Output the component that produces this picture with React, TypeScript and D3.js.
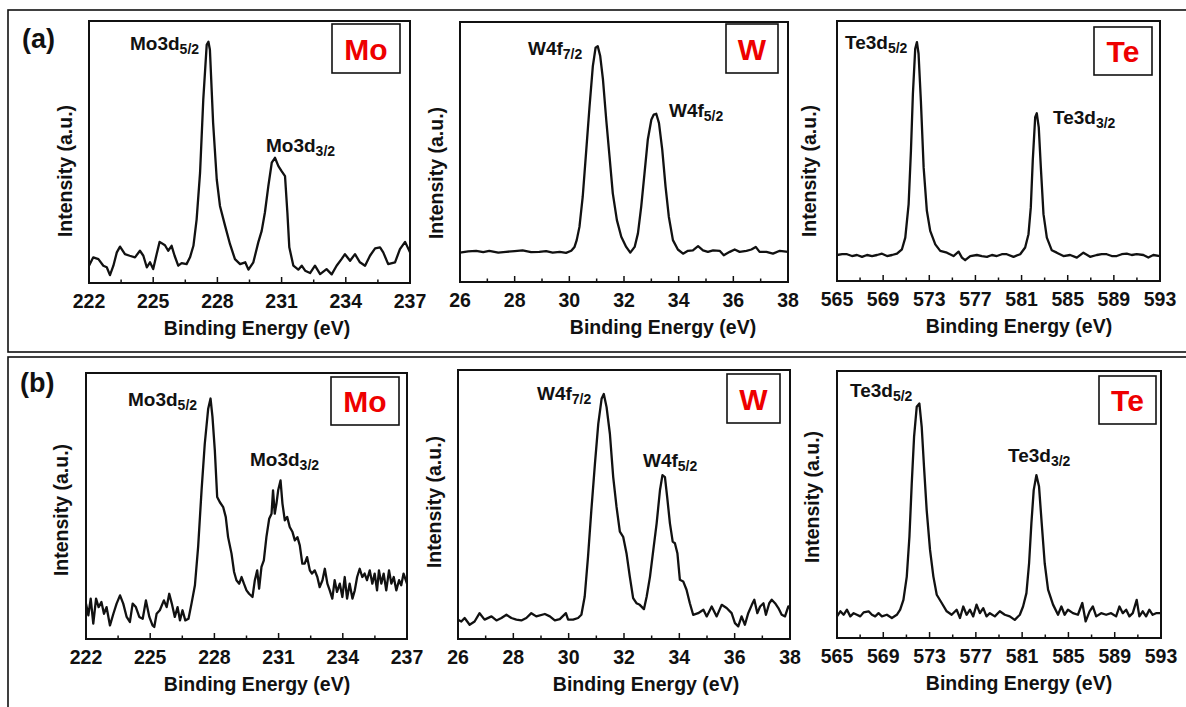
import React from "react";
import * as d3 from "d3";

const FONT = "'Liberation Sans', Arial, Helvetica, sans-serif";
const RED = "#ee0000";

// Tick values for each core-level window
const moTicks = [222, 225, 228, 231, 234, 237];
const wTicks = [26, 28, 30, 32, 34, 36, 38];
const teTicks = [565, 569, 573, 577, 581, 585, 589, 593];

// XPS spectra: [binding energy (eV), intensity (a.u.)]
const moSpectrumA: [number, number][] = [
  [222.0, 6.6], [222.2, 9.8], [222.44, 9.1], [222.67, 6.6], [222.83, 6.0], [222.98, 3.0],
  [223.14, 6.6], [223.3, 11.7], [223.45, 13.9], [223.68, 11.0], [223.9, 10.4], [224.15, 9.8],
  [224.38, 12.3], [224.54, 10.4], [224.7, 6.0], [224.85, 7.9], [225.0, 5.3], [225.16, 11.0],
  [225.3, 15.7], [225.55, 14.4], [225.7, 12.3], [225.86, 14.2], [226.0, 10.4], [226.17, 6.6],
  [226.33, 7.6], [226.56, 7.2], [226.72, 9.8], [226.88, 14.2], [227.03, 24.3], [227.19, 42.1],
  [227.34, 70.0], [227.5, 90.9], [227.58, 92.1], [227.65, 89.0], [227.8, 61.1], [227.97, 39.5],
  [228.12, 29.4], [228.36, 21.8], [228.59, 14.8], [228.82, 9.1], [229.06, 7.2], [229.3, 7.9],
  [229.45, 5.1], [229.68, 7.9], [229.91, 15.5], [230.07, 19.9], [230.22, 26.9], [230.38, 37.0],
  [230.54, 45.9], [230.69, 47.8], [230.85, 44.6], [231.0, 42.7], [231.16, 40.8], [231.27, 26.9],
  [231.36, 13.6], [231.55, 6.6], [231.78, 5.1], [231.94, 6.6], [232.1, 4.7], [232.33, 3.8],
  [232.56, 6.6], [232.8, 3.4], [233.1, 5.3], [233.34, 3.3], [233.57, 6.6], [233.8, 9.1],
  [233.96, 11.0], [234.2, 8.5], [234.43, 11.0], [234.66, 7.9], [234.9, 6.6], [235.13, 10.4],
  [235.37, 13.2], [235.6, 13.6], [235.75, 11.7], [235.98, 7.2], [236.3, 7.9], [236.53, 12.9],
  [236.77, 15.7], [237.0, 11.7],
];

const wSpectrumA: [number, number][] = [
  [26.0, 11.3], [26.3, 11.8], [26.59, 12.0], [26.85, 11.5], [27.07, 12.0], [27.4, 11.3],
  [27.68, 11.6], [28.0, 11.9], [28.29, 12.2], [28.6, 11.5], [28.9, 11.6], [29.15, 11.9],
  [29.39, 11.3], [29.65, 11.6], [29.88, 11.2], [30.07, 12.0], [30.19, 13.5], [30.27, 16.1],
  [30.37, 21.2], [30.49, 32.8], [30.62, 50.8], [30.74, 67.6], [30.86, 83.0], [30.96, 90.1],
  [31.04, 90.7], [31.13, 86.9], [31.23, 77.9], [31.35, 62.4], [31.47, 48.3], [31.59, 34.1],
  [31.74, 23.8], [31.9, 17.4], [32.08, 13.5], [32.23, 11.3], [32.39, 13.5], [32.51, 18.7],
  [32.63, 29.0], [32.75, 41.8], [32.87, 54.7], [33.0, 62.4], [33.09, 64.4], [33.18, 64.7],
  [33.28, 61.1], [33.4, 50.8], [33.52, 36.7], [33.64, 25.1], [33.79, 16.1], [33.97, 12.5],
  [34.16, 10.9], [34.34, 12.0], [34.52, 12.2], [34.71, 13.8], [34.89, 12.2], [35.07, 11.6],
  [35.26, 12.2], [35.5, 12.0], [35.65, 10.3], [35.87, 11.6], [36.05, 12.5], [36.23, 11.6],
  [36.48, 12.0], [36.66, 12.5], [36.82, 13.5], [36.96, 11.6], [37.21, 11.6], [37.45, 10.9],
  [37.7, 12.0], [38.0, 11.6],
];

const teSpectrumA: [number, number][] = [
  [565.0, 10.0], [565.45, 10.3], [565.87, 10.3], [566.3, 9.6], [566.73, 10.0], [567.17, 9.3],
  [567.6, 10.0], [568.04, 9.6], [568.47, 10.0], [568.9, 10.5], [569.34, 9.6], [569.77, 10.0],
  [570.2, 10.5], [570.63, 12.2], [570.92, 16.7], [571.21, 29.6], [571.41, 50.1], [571.58, 72.0],
  [571.78, 89.3], [571.93, 91.9], [572.07, 87.4], [572.27, 69.4], [572.51, 43.7], [572.79, 27.0],
  [573.08, 19.3], [573.52, 14.1], [573.95, 11.6], [574.53, 10.9], [575.1, 9.6], [575.54, 11.3],
  [575.83, 9.0], [576.11, 8.0], [576.55, 9.6], [577.12, 10.0], [577.56, 9.6], [578.0, 9.3],
  [578.43, 10.0], [578.86, 9.6], [579.29, 10.3], [579.72, 10.3], [580.3, 9.3], [580.88, 10.3],
  [581.31, 12.9], [581.6, 18.0], [581.8, 28.3], [581.97, 46.3], [582.18, 63.0], [582.32, 64.5],
  [582.49, 59.1], [582.67, 43.7], [582.9, 25.7], [583.19, 16.7], [583.62, 11.8], [584.05, 10.9],
  [584.63, 9.6], [585.21, 10.0], [585.79, 9.0], [586.36, 10.9], [586.94, 9.3], [587.52, 10.0],
  [587.95, 10.3], [588.38, 10.3], [588.82, 9.6], [589.25, 9.6], [589.68, 10.3], [590.12, 10.5],
  [590.55, 10.0], [590.98, 10.3], [591.56, 10.0], [591.99, 9.0], [592.42, 10.0], [593.0, 9.6],
];

const moSpectrumB: [number, number][] = [
  [222.0, 13.3], [222.11, 8.9], [222.22, 15.2], [222.34, 5.8], [222.47, 15.2], [222.59, 12.0],
  [222.72, 13.9], [222.84, 9.5], [222.96, 12.0], [223.12, 5.1], [223.28, 9.5], [223.43, 13.3],
  [223.59, 16.4], [223.74, 13.3], [223.9, 8.3], [224.05, 6.4], [224.18, 13.3], [224.33, 12.0],
  [224.49, 8.3], [224.65, 7.6], [224.8, 14.5], [224.96, 8.3], [225.11, 5.1], [225.19, 4.5],
  [225.3, 9.5], [225.45, 10.8], [225.64, 14.5], [225.77, 12.0], [225.89, 17.0], [226.01, 13.3],
  [226.15, 8.3], [226.28, 12.0], [226.39, 7.0], [226.51, 10.8], [226.64, 7.0], [226.79, 7.6],
  [226.93, 13.3], [227.09, 20.2], [227.24, 34.6], [227.4, 55.9], [227.55, 73.4], [227.71, 86.6],
  [227.82, 90.4], [227.91, 83.5], [228.02, 70.9], [228.13, 53.4], [228.25, 51.5], [228.41, 49.6],
  [228.53, 45.9], [228.64, 38.3], [228.8, 32.1], [228.92, 25.2], [229.03, 22.1], [229.16, 20.8],
  [229.27, 23.3], [229.38, 20.8], [229.5, 18.3], [229.62, 17.0], [229.78, 15.8], [229.89, 22.1],
  [230.0, 25.8], [230.09, 18.9], [230.2, 27.1], [230.31, 29.6], [230.43, 38.3], [230.56, 45.2],
  [230.67, 47.1], [230.74, 55.9], [230.82, 47.1], [230.9, 50.9], [230.98, 55.9], [231.09, 59.6],
  [231.18, 50.9], [231.29, 44.6], [231.4, 45.9], [231.52, 42.1], [231.65, 40.2], [231.76, 37.1],
  [231.88, 38.3], [231.99, 35.2], [232.11, 28.3], [232.22, 28.3], [232.33, 30.8], [232.46, 25.8],
  [232.56, 24.6], [232.69, 25.8], [232.81, 23.3], [232.92, 19.5], [233.05, 22.1], [233.16, 26.4],
  [233.28, 20.8], [233.39, 18.3], [233.51, 15.2], [233.62, 22.1], [233.73, 17.7], [233.86, 20.8],
  [233.98, 15.8], [234.09, 23.3], [234.2, 15.2], [234.32, 20.8], [234.45, 15.2], [234.56, 18.3],
  [234.67, 23.3], [234.79, 26.4], [234.91, 23.3], [235.02, 24.6], [235.13, 22.1], [235.26, 25.8],
  [235.38, 20.8], [235.49, 24.6], [235.6, 18.3], [235.69, 25.8], [235.8, 20.8], [235.91, 24.6],
  [236.03, 18.3], [236.16, 25.8], [236.27, 20.8], [236.38, 23.3], [236.5, 18.3], [236.63, 22.1],
  [236.73, 20.2], [236.84, 24.6], [237.0, 20.8],
];

const wSpectrumB: [number, number][] = [
  [26.0, 7.2], [26.12, 6.5], [26.24, 7.8], [26.42, 5.3], [26.6, 6.5], [26.78, 9.6], [26.96, 7.2],
  [27.21, 8.4], [27.39, 6.9], [27.57, 7.8], [27.75, 9.0], [27.93, 7.8], [28.11, 7.2], [28.29, 6.9],
  [28.47, 7.8], [28.65, 9.6], [28.83, 8.4], [29.14, 9.3], [29.32, 8.4], [29.5, 6.9], [29.68, 7.4],
  [29.9, 9.6], [29.98, 7.2], [30.16, 7.2], [30.34, 7.8], [30.46, 9.0], [30.58, 15.8], [30.7, 30.6],
  [30.82, 47.9], [30.95, 65.2], [31.07, 80.0], [31.19, 89.3], [31.27, 91.1], [31.37, 86.2],
  [31.49, 76.3], [31.61, 60.2], [31.73, 49.1], [31.85, 39.9], [31.97, 38.0], [32.09, 31.9],
  [32.21, 23.2], [32.33, 15.2], [32.45, 13.3], [32.57, 12.7], [32.72, 11.1], [32.82, 15.8],
  [32.94, 23.2], [33.06, 33.1], [33.18, 43.0], [33.3, 55.3], [33.39, 60.9], [33.48, 60.2],
  [33.56, 52.8], [33.66, 43.0], [33.76, 36.2], [33.84, 35.6], [33.93, 31.9], [34.02, 22.0],
  [34.14, 21.4], [34.26, 18.3], [34.38, 13.3], [34.5, 9.0], [34.68, 9.6], [34.87, 10.9],
  [34.99, 8.4], [35.17, 12.1], [35.35, 8.4], [35.53, 12.7], [35.71, 11.5], [35.89, 9.6],
  [36.01, 5.9], [36.13, 4.7], [36.25, 8.4], [36.37, 5.3], [36.49, 9.6], [36.62, 12.7],
  [36.71, 14.6], [36.82, 9.6], [36.92, 12.1], [37.04, 13.3], [37.13, 9.0], [37.25, 13.3],
  [37.34, 14.6], [37.46, 13.3], [37.58, 11.5], [37.7, 9.0], [37.82, 8.4], [37.94, 12.1], [38.0, 11.5],
];

const teSpectrumB: [number, number][] = [
  [565.0, 8.1], [565.29, 10.0], [565.57, 8.7], [565.86, 10.6], [566.15, 8.1], [566.44, 9.3],
  [566.72, 8.7], [567.01, 8.1], [567.3, 9.6], [567.73, 10.0], [568.02, 8.7], [568.3, 8.1],
  [568.59, 9.3], [568.88, 8.1], [569.31, 8.7], [569.74, 7.5], [570.17, 8.7], [570.46, 10.6],
  [570.74, 14.3], [571.03, 23.0], [571.26, 38.0], [571.46, 57.9], [571.66, 75.3], [571.89, 86.6],
  [572.12, 87.8], [572.32, 79.1], [572.52, 64.1], [572.75, 47.9], [573.04, 33.0], [573.33, 23.0],
  [573.62, 16.2], [574.05, 13.1], [574.48, 10.0], [574.91, 8.7], [575.34, 10.6], [575.63, 7.5],
  [575.91, 11.8], [576.2, 8.7], [576.49, 10.6], [576.77, 8.1], [577.06, 12.5], [577.35, 9.3],
  [577.64, 11.2], [577.92, 8.1], [578.21, 9.3], [578.64, 8.1], [579.07, 10.0], [579.5, 8.7],
  [579.93, 8.1], [580.36, 6.8], [580.8, 8.7], [581.08, 11.8], [581.37, 16.8], [581.6, 28.0],
  [581.8, 43.0], [582.0, 55.4], [582.23, 61.0], [582.46, 56.7], [582.69, 43.0], [582.95, 28.0],
  [583.24, 18.1], [583.67, 12.5], [584.1, 8.7], [584.39, 11.8], [584.67, 8.7], [584.96, 10.6],
  [585.39, 9.3], [585.82, 8.7], [586.2, 13.1], [586.49, 6.2], [586.83, 10.0], [587.11, 11.8],
  [587.4, 8.1], [587.83, 9.3], [588.26, 8.7], [588.69, 9.3], [589.12, 8.1], [589.41, 11.8],
  [589.7, 9.3], [589.99, 10.6], [590.27, 8.1], [590.56, 9.3], [590.9, 14.3], [591.13, 8.1],
  [591.42, 10.0], [591.71, 8.1], [591.99, 10.6], [592.28, 8.7], [592.57, 9.3], [593.0, 9.3],
];

// Peak assignments
const moPeaks = [["Mo3d", "5/2"], ["Mo3d", "3/2"]];
const wPeaks = [["W4f", "7/2"], ["W4f", "5/2"]];
const tePeaks = [["Te3d", "5/2"], ["Te3d", "3/2"]];

type PanelSpec = {
  data: [number, number][];
  ticks: number[];
  element: string;
  peaks: string[][];
  frame: [number, number, number, number]; // left, top, right, bottom
  box: [number, number, number, number];
  peakPos: [number, number][];
  xLabelX: number;
  yLabel: [number, number];
};

const panels: PanelSpec[] = [
  {
    data: moSpectrumA, ticks: moTicks, element: "Mo", peaks: moPeaks,
    frame: [89, 21, 410, 283], box: [332, 24, 400, 73],
    peakPos: [[130, 50], [266, 152]], xLabelX: 257, yLabel: [72, 171],
  },
  {
    data: wSpectrumA, ticks: wTicks, element: "W", peaks: wPeaks,
    frame: [460, 22, 788, 282], box: [726, 24, 778, 73],
    peakPos: [[528, 55], [669, 117]], xLabelX: 663, yLabel: [443, 173],
  },
  {
    data: teSpectrumA, ticks: teTicks, element: "Te", peaks: tePeaks,
    frame: [837, 21, 1160, 281], box: [1094, 27, 1152, 75],
    peakPos: [[845, 49], [1053, 124]], xLabelX: 1019, yLabel: [816, 171],
  },
  {
    data: moSpectrumB, ticks: moTicks, element: "Mo", peaks: moPeaks,
    frame: [86, 373, 407, 639], box: [331, 377, 399, 425],
    peakPos: [[128, 406], [250, 466]], xLabelX: 257, yLabel: [68, 510],
  },
  {
    data: wSpectrumB, ticks: wTicks, element: "W", peaks: wPeaks,
    frame: [458, 370, 790, 639], box: [727, 374, 780, 423],
    peakPos: [[537, 400], [643, 467]], xLabelX: 646, yLabel: [441, 502],
  },
  {
    data: teSpectrumB, ticks: teTicks, element: "Te", peaks: tePeaks,
    frame: [837, 371, 1161, 638], box: [1099, 376, 1156, 424],
    peakPos: [[850, 397], [1008, 462]], xLabelX: 1019, yLabel: [819, 497],
  },
];

function Panel({ p }: { p: PanelSpec }) {
  const [l, t, r, b] = p.frame;
  const lo = p.ticks[0];
  const hi = p.ticks[p.ticks.length - 1];
  const x = d3.scaleLinear().domain([lo, hi]).range([l, r]);
  const y = d3.scaleLinear().domain([0, 100]).range([b, t]);
  const line = d3
    .line<[number, number]>()
    .x((d) => x(d[0]))
    .y((d) => y(d[1]));
  const step = p.ticks[1] - p.ticks[0];
  const minor = p.ticks.slice(0, -1).map((v) => v + step / 2);
  const [bx0, by0, bx1, by1] = p.box;
  return (
    <g>
      <path d={line(p.data) || ""} fill="none" stroke="#111" strokeWidth={2.3} strokeLinejoin="round" />
      <rect x={l} y={t} width={r - l} height={b - t} fill="none" stroke="#111" strokeWidth={2} />
      {p.ticks.map((v) => (
        <g key={v}>
          <line x1={x(v)} x2={x(v)} y1={b} y2={b - 6} stroke="#111" strokeWidth={1.5} />
          <text
            x={x(v)} y={b + 25} textAnchor="middle"
            fontFamily={FONT} fontWeight="bold" fontSize={19.5} fill="#111"
          >
            {v}
          </text>
        </g>
      ))}
      {minor.map((v) => (
        <line key={"m" + v} x1={x(v)} x2={x(v)} y1={b} y2={b - 3.5} stroke="#111" strokeWidth={1.5} />
      ))}
      <text
        x={p.xLabelX} y={b + 52} textAnchor="middle"
        fontFamily={FONT} fontWeight="bold" fontSize={19.5} fill="#111"
      >
        Binding Energy (eV)
      </text>
      <text
        transform={`translate(${p.yLabel[0]},${p.yLabel[1]}) rotate(-90)`}
        textAnchor="middle" fontFamily={FONT} fontWeight="bold" fontSize={19.5} fill="#111"
      >
        Intensity (a.u.)
      </text>
      {p.peaks.map((pk, i) => (
        <text
          key={i} x={p.peakPos[i][0]} y={p.peakPos[i][1]}
          fontFamily={FONT} fontWeight="bold" fontSize={19} fill="#111"
        >
          <tspan>{pk[0]}</tspan>
          <tspan fontSize={14} dy={4}>{pk[1]}</tspan>
        </text>
      ))}
      <rect x={bx0} y={by0} width={bx1 - bx0} height={by1 - by0} fill="#fff" stroke="#111" strokeWidth={1.6} />
      <text
        x={(bx0 + bx1) / 2} y={(by0 + by1) / 2 + 11} textAnchor="middle"
        fontFamily={FONT} fontWeight="bold" fontSize={30} fill={RED}
      >
        {p.element}
      </text>
    </g>
  );
}

export default function App() {
  return (
    <svg
      width={1186} height={707}
      style={{ position: "absolute", left: 0, top: 0, background: "#fff" }}
    >
      <rect x={0} y={0} width={1186} height={707} fill="#fff" />
      <rect x={8} y={10} width={1190} height={342} fill="none" stroke="#111" strokeWidth={1.6} />
      <rect x={8} y={357} width={1190} height={360} fill="none" stroke="#111" strokeWidth={1.6} />
      <text x={22} y={48} fontFamily={FONT} fontWeight="bold" fontSize={27} fill="#111">(a)</text>
      <text x={20} y={392} fontFamily={FONT} fontWeight="bold" fontSize={27} fill="#111">(b)</text>
      {panels.map((p, i) => (
        <Panel key={i} p={p} />
      ))}
    </svg>
  );
}
